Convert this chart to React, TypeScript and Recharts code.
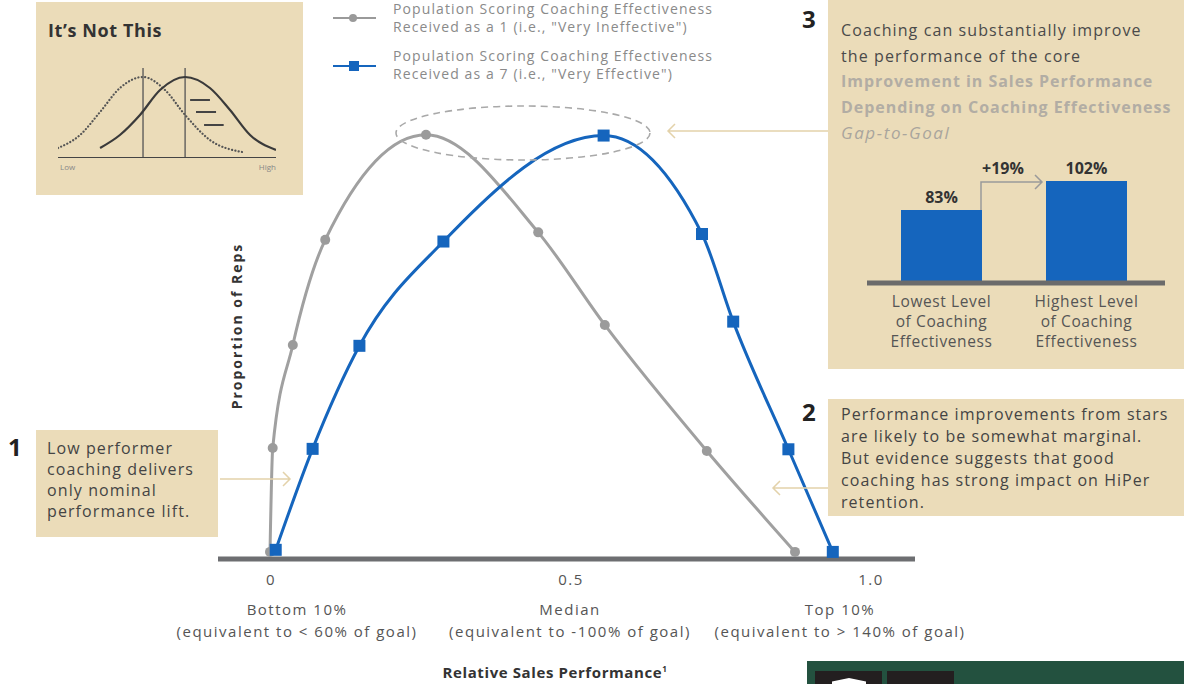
import React from "react";
import {
  LineChart,
  Line,
  XAxis,
  YAxis,
  BarChart,
  Bar,
  LabelList,
  ReferenceLine,
} from "recharts";

// main chart: relative sales performance (0 = bottom 10%, 1 = top 10%) vs proportion of reps
const lowCoachingX = [0, 0.0045, 0.038, 0.092, 0.26, 0.447, 0.558, 0.728, 0.875];
const lowCoachingY = [0, 24.9, 49.6, 74.8, 100, 76.6, 54.4, 24.2, 0];
const highCoachingX = [0.0095, 0.071, 0.149, 0.289, 0.556, 0.72, 0.772, 0.864, 0.938];
const highCoachingY = [0.5, 24.7, 49.4, 74.4, 99.8, 76.2, 55.2, 24.6, 0];

const perfTicks = [0, 0.5, 1];
const perfTickNames = ["0", "0.5", "1.0"];
const perfTickGroups = ["Bottom 10%", "Median", "Top 10%"];
const perfTickNotes = [
  "(equivalent to < 60% of goal)",
  "(equivalent to -100% of goal)",
  "(equivalent to > 140% of goal)",
];

// gap-to-goal bars
const gapLevels = [
  ["Lowest Level", "of Coaching", "Effectiveness"],
  ["Highest Level", "of Coaching", "Effectiveness"],
];
const gapToGoal = [83, 102];

// "It's Not This" sketch
const naiveX = [0, 1.01, 1.93, 2.84, 3.9, 4.91, 5.83, 6.97, 8.44];
const naiveY = [10, 23, 46, 70, 81, 68, 43, 18, 6];
const shiftedX = [1.93, 2.84, 3.76, 4.68, 5.83, 6.97, 7.89, 8.81, 10];
const shiftedY = [10, 23, 43, 68, 81, 70, 48, 23, 8];

const FONT = "'Open Sans', sans-serif";
const TAN = "#ebdcb9";
const BLUE = "#1565bd";
const GRAY = "#a0a0a0";

const lowData = lowCoachingX.map((x, i) => ({ x, y: lowCoachingY[i] }));
const highData = highCoachingX.map((x, i) => ({ x, y: highCoachingY[i] }));
const gapData = gapToGoal.map((value, i) => ({ name: gapLevels[i][0], value, idx: i }));
const naiveData = naiveX.map((x, i) => ({ x, y: naiveY[i] }));
const shiftedData = shiftedX.map((x, i) => ({ x, y: shiftedY[i] }));

const PerfTick = (props: any) => {
  const { x, y, payload } = props;
  const i = perfTicks.indexOf(payload.value);
  // outer captions are pulled inward so they don't run off the axis
  const cx = x + (i === 0 ? 27 : i === 2 ? -30 : 0);
  return (
    <text
      x={x}
      y={y}
      textAnchor="middle"
      fill="#555"
      fontSize={15}
      fontFamily={FONT}
      style={{ letterSpacing: "1.5px" }}
    >
      <tspan x={x + 1} dy={18}>{perfTickNames[i]}</tspan>
      <tspan x={cx} dy={30}>{perfTickGroups[i]}</tspan>
      <tspan x={cx} dy={22}>{perfTickNotes[i]}</tspan>
    </text>
  );
};

const GapTick = (props: any) => {
  const { x, y, index } = props;
  const lines = gapLevels[index] || [];
  return (
    <text
      x={x}
      y={y}
      textAnchor="middle"
      fill="#555"
      fontSize={15.5}
      fontFamily={FONT}
      style={{ letterSpacing: "0.6px" }}
    >
      {lines.map((l, k) => (
        <tspan key={k} x={x} dy={k === 0 ? 16 : 20}>
          {l}
        </tspan>
      ))}
    </text>
  );
};

const txt = (extra: React.CSSProperties): React.CSSProperties => ({
  position: "absolute",
  fontFamily: FONT,
  whiteSpace: "nowrap",
  ...extra,
});

export default function App() {
  return (
    <div
      style={{
        position: "absolute",
        left: 0,
        top: 0,
        width: 1184,
        height: 684,
        background: "#fff",
        overflow: "hidden",
        fontFamily: FONT,
      }}
    >
      <div style={{ position: "absolute", left: 0, top: 0 }}>
        <LineChart
          width={1184}
          height={684}
          margin={{ top: 93, right: 269, bottom: 65, left: 218 }}
        >
          <XAxis
            dataKey="x"
            type="number"
            domain={[-0.0867, 1.075]}
            ticks={perfTicks}
            allowDataOverflow
            height={60}
            axisLine={{ stroke: "#6d6e71", strokeWidth: 5 }}
            tickLine={false}
            tick={<PerfTick />}
            interval={0}
          />
          <YAxis type="number" domain={[-1.7, 110]} hide allowDataOverflow />
          <Line
            data={lowData}
            dataKey="y"
            type="monotone"
            stroke={GRAY}
            strokeWidth={3}
            isAnimationActive={false}
            activeDot={false}
            dot={(p: any) => (
              <circle key={`g${p.index}`} cx={p.cx} cy={p.cy} r={5} fill="#9b9b9b" />
            )}
          />
          <Line
            data={highData}
            dataKey="y"
            type="monotone"
            stroke={BLUE}
            strokeWidth={3}
            isAnimationActive={false}
            activeDot={false}
            dot={(p: any) => (
              <rect
                key={`b${p.index}`}
                x={p.cx - 6}
                y={p.cy - 6}
                width={12}
                height={12}
                fill={BLUE}
              />
            )}
          />
        </LineChart>
      </div>

      {/* axis titles */}
      <div
        style={txt({
          left: 236,
          top: 326,
          transform: "translate(-50%, -50%) rotate(-90deg)",
          fontSize: 14,
          fontWeight: 700,
          letterSpacing: "2px",
          color: "#333",
        })}
      >
        Proportion of Reps
      </div>
      <div
        style={txt({
          left: 555,
          top: 662,
          transform: "translateX(-50%)",
          fontSize: 15,
          fontWeight: 700,
          letterSpacing: "0.6px",
          color: "#333",
        })}
      >
        Relative Sales Performance<sup style={{ fontSize: 8 }}>1</sup>
      </div>

      {/* legend */}
      <div style={{ position: "absolute", left: 333, top: 17, width: 43, height: 2, background: "#9a9a9a" }} />
      <div style={{ position: "absolute", left: 349, top: 14, width: 8, height: 8, borderRadius: 4, background: "#9a9a9a" }} />
      <div style={txt({ left: 393, top: 0, fontSize: 14, lineHeight: "17.5px", letterSpacing: "1.1px", color: "#8a8a8a" })}>
        Population Scoring Coaching Effectiveness
        <br />
        Received as a 1 (i.e., "Very Ineffective")
      </div>
      <div style={{ position: "absolute", left: 333, top: 65, width: 43, height: 2, background: BLUE }} />
      <div style={{ position: "absolute", left: 349, top: 61, width: 10, height: 10, background: BLUE }} />
      <div style={txt({ left: 393, top: 47, fontSize: 14, lineHeight: "17.5px", letterSpacing: "1.1px", color: "#8a8a8a" })}>
        Population Scoring Coaching Effectiveness
        <br />
        Received as a 7 (i.e., "Very Effective")
      </div>

      {/* ellipse and arrows */}
      <svg width={1184} height={684} style={{ position: "absolute", left: 0, top: 0, pointerEvents: "none" }}>
        <ellipse cx={523} cy={133} rx={127} ry={27} fill="none" stroke="#a9a9a9" strokeWidth={1.6} strokeDasharray="7 5" />
        <g stroke="#e3d2aa" strokeWidth={1.5} fill="none">
          <path d="M220 479 L290 479 M283 472 L290 479 L283 486" />
          <path d="M828 131 L668 131 M675 124 L668 131 L675 138" />
          <path d="M828 488 L773 488 M780 481 L773 488 L780 495" />
        </g>
      </svg>

      {/* It's Not This */}
      <div style={{ position: "absolute", left: 36, top: 2, width: 267, height: 193, background: TAN }} />
      <div style={txt({ left: 48, top: 18, fontSize: 18, fontWeight: 700, letterSpacing: "0.6px", color: "#333" })}>
        It’s Not This
      </div>
      <div style={{ position: "absolute", left: 58, top: 60 }}>
        <LineChart width={218} height={98} margin={{ top: 0, right: 0, bottom: 0, left: 0 }}>
          <XAxis dataKey="x" type="number" domain={[0, 10]} hide />
          <YAxis type="number" domain={[0, 98]} hide />
          <ReferenceLine stroke="#555" strokeWidth={1.3} segment={[{ x: 3.9, y: 0 }, { x: 3.9, y: 90 }]} />
          <ReferenceLine stroke="#555" strokeWidth={1.3} segment={[{ x: 5.83, y: 0 }, { x: 5.83, y: 90 }]} />
          <ReferenceLine segment={[{ x: 6.06, y: 58 }, { x: 6.97, y: 58 }]} stroke="#444" strokeWidth={2} />
          <ReferenceLine segment={[{ x: 6.33, y: 46 }, { x: 7.25, y: 46 }]} stroke="#444" strokeWidth={2} />
          <ReferenceLine segment={[{ x: 6.7, y: 33 }, { x: 7.6, y: 33 }]} stroke="#444" strokeWidth={2} />
          <ReferenceLine y={0} stroke="#444" strokeWidth={2} />
          <Line
            data={naiveData}
            dataKey="y"
            type="monotone"
            stroke="#555"
            strokeWidth={2.2}
            strokeDasharray="0.1 3.3"
            strokeLinecap="round"
            dot={false}
            activeDot={false}
            isAnimationActive={false}
          />
          <Line
            data={shiftedData}
            dataKey="y"
            type="monotone"
            stroke="#3a3a3a"
            strokeWidth={2.2}
            dot={false}
            activeDot={false}
            isAnimationActive={false}
          />
        </LineChart>
      </div>
      <div style={txt({ left: 60, top: 161, fontSize: 8, color: "#888" })}>Low</div>
      <div style={txt({ left: 276, top: 161, fontSize: 8, color: "#888", transform: "translateX(-100%)" })}>High</div>

      {/* callout 1 */}
      <div style={txt({ left: 8, top: 430, fontSize: 24, fontWeight: 700, color: "#222" })}>1</div>
      <div style={{ position: "absolute", left: 36, top: 430, width: 182, height: 107, background: TAN }} />
      <div style={txt({ left: 47, top: 438, fontSize: 16, lineHeight: "21px", letterSpacing: "1.1px", color: "#444" })}>
        Low performer
        <br />
        coaching delivers
        <br />
        only nominal
        <br />
        performance lift.
      </div>

      {/* callout 2 */}
      <div style={txt({ left: 802, top: 395, fontSize: 24, fontWeight: 700, color: "#222" })}>2</div>
      <div style={{ position: "absolute", left: 828, top: 399, width: 356, height: 117, background: TAN }} />
      <div style={txt({ left: 841, top: 403, fontSize: 16, lineHeight: "22px", letterSpacing: "1.05px", color: "#444" })}>
        Performance improvements from stars
        <br />
        are likely to be somewhat marginal.
        <br />
        But evidence suggests that good
        <br />
        coaching has strong impact on HiPer
        <br />
        retention.
      </div>

      {/* callout 3 */}
      <div style={txt({ left: 802, top: 2, fontSize: 24, fontWeight: 700, color: "#222" })}>3</div>
      <div style={{ position: "absolute", left: 828, top: 0, width: 356, height: 369, background: TAN }} />
      <div style={txt({ left: 841, top: 18, fontSize: 16, lineHeight: "25.5px", letterSpacing: "1.1px", color: "#4a4a4a" })}>
        Coaching can substantially improve
        <br />
        the performance of the core
        <br />
        <span style={{ fontWeight: 700, color: "#b2ada4", letterSpacing: "0.95px" }}>
          Improvement in Sales Performance
          <br />
          Depending on Coaching Effectiveness
        </span>
        <br />
        <span style={{ fontStyle: "italic", color: "#a9a59d", fontSize: 17, letterSpacing: "1.6px" }}>Gap-to-Goal</span>
      </div>
      <div style={{ position: "absolute", left: 867, top: 150 }}>
        <BarChart width={298} height={220} data={gapData} margin={{ top: 0, right: 0, bottom: 0, left: 0 }}>
          <XAxis
            dataKey="name"
            height={87}
            padding={{ left: 2, right: 6 }}
            axisLine={{ stroke: "#6b6b6b", strokeWidth: 5 }}
            tickLine={false}
            tick={<GapTick />}
            interval={0}
          />
          <YAxis type="number" domain={[35.2, 122.4]} hide allowDataOverflow />
          <Bar dataKey="value" fill={BLUE} barSize={81} isAnimationActive={false}>
            <LabelList
              dataKey="value"
              position="top"
              offset={7}
              formatter={(v: any) => `${v}%`}
              style={{ fill: "#333", fontSize: 16, fontWeight: 700, fontFamily: FONT }}
            />
          </Bar>
        </BarChart>
      </div>
      <svg width={1184} height={684} style={{ position: "absolute", left: 0, top: 0, pointerEvents: "none" }}>
        <path d="M981 210 L981 182 L1042 182 M1035 175 L1042 182 L1035 189" stroke="#9a9a9a" strokeWidth={1.5} fill="none" />
      </svg>
      <div style={txt({ left: 1003, top: 157, transform: "translateX(-50%)", fontSize: 16, fontWeight: 700, color: "#333" })}>
        +19%
      </div>

      {/* footer tile */}
      <div style={{ position: "absolute", left: 807, top: 661, width: 377, height: 23, background: "#23513f" }} />
      <div style={{ position: "absolute", left: 815, top: 671, width: 67, height: 13, background: "#231f20" }} />
      <div style={{ position: "absolute", left: 887, top: 671, width: 67, height: 13, background: "#231f20" }} />
      <div
        style={{
          position: "absolute",
          left: 832,
          top: 678,
          width: 34,
          height: 6,
          background: "#fff",
          clipPath: "polygon(50% 0, 100% 60%, 100% 100%, 0 100%, 0 60%)",
        }}
      />
    </div>
  );
}
